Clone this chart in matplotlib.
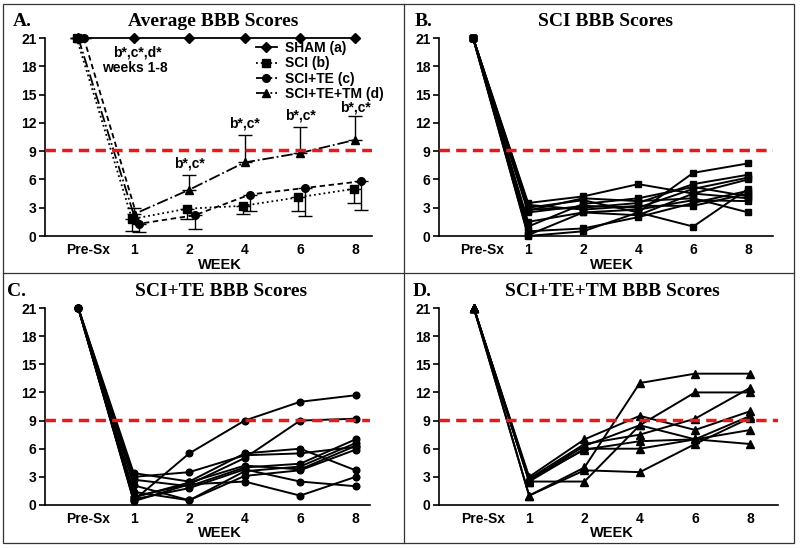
import matplotlib
matplotlib.use('Agg')
import matplotlib.pyplot as plt
from matplotlib.lines import Line2D
from matplotlib.patches import Rectangle

W, H = 800, 548

# ---- data ----
weeks = ['Pre-Sx', '1', '2', '4', '6', '8']
xpos = [0, 1, 2, 3, 4, 5]

sham_mean = [21, 21, 21, 21, 21, 21]
sci_mean = [21, 1.8, 2.9, 3.2, 4.1, 5.0]
sci_sem = [0, 1.3, 1.1, 0.9, 1.4, 1.5]
te_mean = [21, 1.3, 2.2, 4.4, 5.1, 5.8]
te_sem = [0, 0.9, 1.5, 1.8, 3.0, 3.0]
tm_mean = [21, 2.3, 4.9, 7.8, 8.8, 10.2]
tm_sem = [0, 0.7, 1.6, 2.9, 2.8, 2.5]

threshold = 9.1

sci_rats = [
    [21, 3.5, 4.2, 5.5, 4.5, 4.0],
    [21, 0.0, 0.5, 2.5, 6.7, 7.7],
    [21, 3.0, 3.8, 2.5, 1.0, 5.0],
    [21, 2.8, 3.0, 3.5, 5.5, 6.5],
    [21, 2.5, 3.2, 3.0, 5.0, 6.2],
    [21, 1.5, 2.5, 2.2, 4.5, 6.0],
    [21, 0.5, 0.8, 2.0, 3.5, 4.8],
    [21, 2.7, 4.0, 3.7, 4.0, 2.5],
    [21, 3.3, 2.8, 3.2, 3.2, 4.5],
    [21, 0.1, 2.5, 2.8, 3.8, 3.7],
    [21, 1.0, 3.4, 4.0, 5.2, 4.2],
]

te_rats = [
    [21, 0.5, 5.5, 9.0, 11.0, 11.7],
    [21, 0.9, 2.2, 5.0, 9.0, 9.2],
    [21, 3.4, 2.5, 5.5, 6.0, 3.7],
    [21, 3.0, 3.5, 5.3, 5.5, 6.2],
    [21, 2.7, 2.0, 4.0, 4.4, 7.0],
    [21, 2.1, 0.5, 3.6, 4.1, 6.6],
    [21, 1.4, 0.5, 3.1, 3.7, 5.9],
    [21, 0.4, 2.2, 2.5, 1.0, 3.0],
    [21, 0.6, 1.8, 3.8, 2.5, 2.0],
    [21, 0.8, 2.4, 4.2, 3.8, 6.3],
]

tm_rats = [
    [21, 1.0, 4.0, 13.0, 14.0, 14.0],
    [21, 2.5, 2.5, 8.5, 12.0, 12.0],
    [21, 3.0, 7.0, 9.5, 8.0, 10.0],
    [21, 2.8, 6.5, 7.5, 9.2, 12.5],
    [21, 2.5, 6.0, 6.0, 7.0, 9.5],
    [21, 1.0, 3.7, 3.5, 6.5, 9.3],
    [21, 2.7, 5.9, 6.8, 7.0, 6.5],
    [21, 2.6, 6.3, 8.5, 7.0, 8.0],
]

SANS = 'Liberation Sans'
SERIF = 'Liberation Serif'


def px_rect(l, r, t, b):
    return [l / W, 1 - b / H, (r - l) / W, (b - t) / H]


def style_axes(ax, xlim):
    ax.set_xlim(xlim)
    ax.set_ylim(0, 21)
    ax.set_yticks(range(0, 22, 3))
    # Pre-Sx label sits a little right of its points in the original
    ax.set_xticks([0.17, 1, 2, 3, 4, 5])
    ax.set_xticklabels(weeks)
    for s in ['top', 'right']:
        ax.spines[s].set_visible(False)
    for s in ['left', 'bottom']:
        ax.spines[s].set_linewidth(1.2)
    ax.tick_params(axis='y', length=4, width=1.2, pad=2, labelsize=10)
    ax.tick_params(axis='x', length=0, pad=5, labelsize=10)
    for lbl in ax.get_xticklabels() + ax.get_yticklabels():
        lbl.set_fontweight('bold')
        lbl.set_family(SANS)
    ax.axhline(threshold, color='#e8191b', lw=2.5, dashes=(3, 1.8), zorder=3)


def fig_text(x, y, s, **kw):
    fig.text(x / W, 1 - y / H, s, **kw)


fig = plt.figure(figsize=(8, 5.48), dpi=100)

# ---- Panel A ----
axA = fig.add_axes(px_rect(45, 372, 38, 236))
style_axes(axA, (-0.6, 5.3))
axA.plot(xpos, sham_mean, color='black', lw=1.3, marker='D', ms=4.8,
         clip_on=False, label='SHAM (a)', zorder=4)
axA.errorbar([x - 0.03 for x in xpos], sci_mean, yerr=[sci_sem, [0] * 6],
             color='black', lw=1.3, ls=':', marker='s', ms=5.5, capsize=5,
             elinewidth=1, clip_on=False, label='SCI (b)')
axA.errorbar([x + 0.1 for x in xpos], te_mean, yerr=[te_sem, [0] * 6],
             color='black', lw=1.3, ls='--', marker='o', ms=5.5, capsize=5,
             elinewidth=1, clip_on=False, label='SCI+TE (c)', dashes=(3, 2))
axA.errorbar(xpos, tm_mean, yerr=[[0] * 6, tm_sem],
             color='black', lw=1.3, ls='-.', marker='^', ms=6, capsize=5,
             elinewidth=1, clip_on=False, label='SCI+TE+TM (d)')

handles = [
    Line2D([], [], color='black', lw=1.3, marker='D', ms=4.8),
    Line2D([], [], color='black', lw=1.3, ls=':', marker='s', ms=5.5),
    Line2D([], [], color='black', lw=1.3, ls='--', marker='o', ms=5.5),
    Line2D([], [], color='black', lw=1.3, ls='-.', marker='^', ms=6),
]
labels = ['SHAM (a)', 'SCI (b)', 'SCI+TE (c)', 'SCI+TE+TM (d)']
axA.legend(handles, labels, loc='upper left', bbox_to_anchor=(256 / W, 1 - 41 / H),
           bbox_transform=fig.transFigure, frameon=False, borderpad=0,
           borderaxespad=0, handlelength=1.5, handletextpad=0.6,
           labelspacing=0.1, prop={'family': SANS, 'weight': 'bold', 'size': 10})

ann = dict(ha='center', va='center', fontsize=10, fontweight='bold', family=SANS)
axA.text(1.07, 19.5, 'b*,c*,d*', **ann)
axA.text(1.02, 17.8, 'weeks 1-8', **ann)
axA.text(2.0, 7.7, 'b*,c*', **ann)
axA.text(3.0, 11.9, 'b*,c*', **ann)
axA.text(4.0, 12.8, 'b*,c*', **ann)
axA.text(5.0, 13.6, 'b*,c*', **ann)

# ---- Panel B ----
axB = fig.add_axes(px_rect(439, 773, 38, 236))
style_axes(axB, (-0.62, 5.45))
for r in sci_rats:
    axB.plot(xpos, r, color='black', lw=1.4, marker='s', ms=4.8, clip_on=False)

# ---- Panel C ----
axC = fig.add_axes(px_rect(45, 370, 308, 505))
style_axes(axC, (-0.6, 5.26))
for r in te_rats:
    axC.plot(xpos, r, color='black', lw=1.4, marker='o', ms=4.8, clip_on=False)

# ---- Panel D ----
axD = fig.add_axes(px_rect(439, 778, 308, 505))
style_axes(axD, (-0.63, 5.5))
for r in tm_rats:
    axD.plot(xpos, r, color='black', lw=1.4, marker='^', ms=5.3, clip_on=False)

# ---- titles, panel letters, x labels ----
tkw = dict(ha='center', va='center', fontsize=14, fontweight='bold', family=SERIF)
fig_text(213, 22, 'Average BBB Scores', **tkw)
fig_text(605, 22, 'SCI BBB Scores', **tkw)
fig_text(221, 292, 'SCI+TE BBB Scores', **tkw)
fig_text(612, 292, 'SCI+TE+TM BBB Scores', **tkw)

lkw = dict(ha='left', va='center', fontsize=14, fontweight='bold', family=SERIF)
fig_text(13, 22, 'A.', **lkw)
fig_text(415, 22, 'B.', **lkw)
fig_text(7, 292, 'C.', **lkw)
fig_text(413, 292, 'D.', **lkw)

wkw = dict(ha='center', va='center', fontsize=10.5, fontweight='bold', family=SANS)
fig_text(220, 265, 'WEEK', **wkw)
fig_text(612, 265, 'WEEK', **wkw)
fig_text(220, 533, 'WEEK', **wkw)
fig_text(612, 533, 'WEEK', **wkw)

# ---- panel borders ----
bc = '#333333'
fig.add_artist(Rectangle((3 / W, 1 - 543 / H), 791 / W, 539 / H, fill=False,
                         edgecolor=bc, lw=0.9, transform=fig.transFigure))
fig.add_artist(Line2D([404 / W, 404 / W], [1 - 543 / H, 1 - 4 / H], color=bc, lw=0.9,
                      transform=fig.transFigure))
fig.add_artist(Line2D([3 / W, 794 / W], [1 - 273 / H, 1 - 273 / H], color=bc, lw=0.9,
                      transform=fig.transFigure))

fig.savefig('out.png', dpi=100)
